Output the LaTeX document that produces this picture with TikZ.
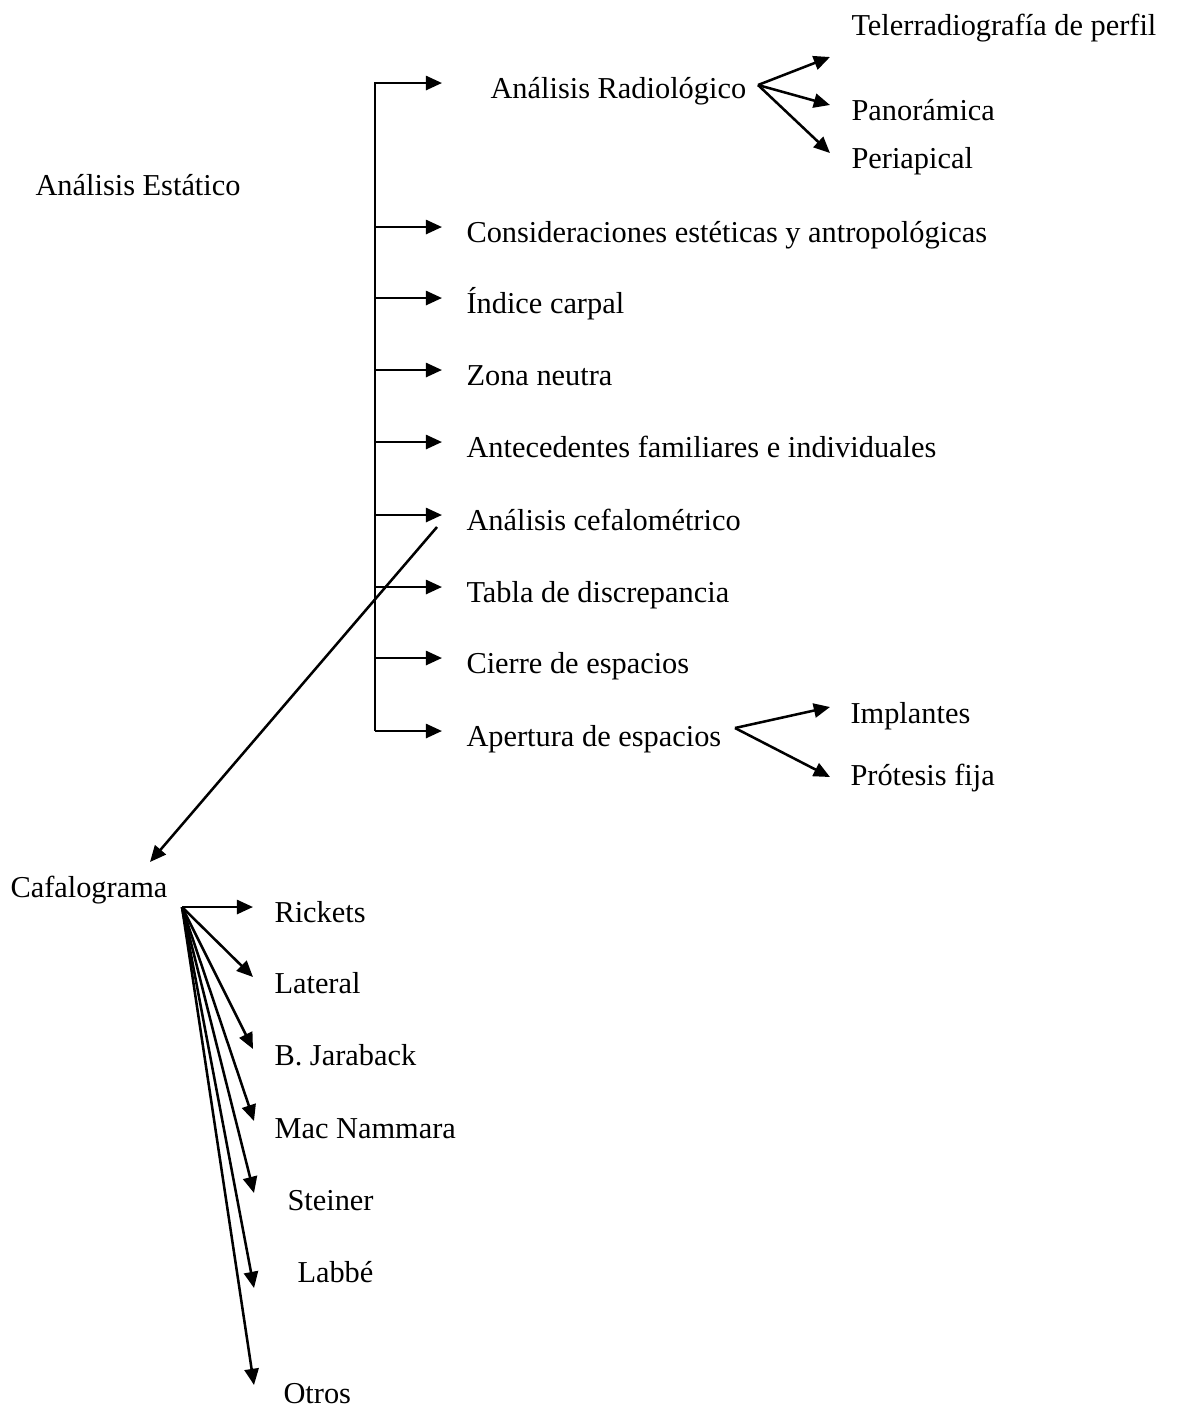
\documentclass[tikz,border=0pt]{standalone}
\usepackage{fontspec}
\setmainfont{Liberation Serif}
\usetikzlibrary{arrows.meta,calc}
\tikzset{
	item/.style={anchor=base west,inner sep=0pt,font=\fontsize{12}{14}\selectfont},
	line/.style={color=black,line width=1pt,line join=miter},
	arr/.style={line,-{Triangle[width=5.6pt,length=6.4pt]}}
}

\begin{document}
\begin{tikzpicture}[x=0.395pt,y=-0.395pt]
	\useasboundingbox (0,0) rectangle (1181,1410);
	%%%root
	\node[item] (estatico) at (35,195) {Análisis Estático};
	\coordinate (trunk) at (375,83);
	%%%items on the trunk
	\node[item] (radio) at (490,98) {Análisis Radiológico};
	\node[item] (cons) at (466,242) {Consideraciones estéticas y antropológicas};
	\node[item] (indice) at (466,313) {Índice carpal};
	\node[item] (zona) at (466,385) {Zona neutra};
	\node[item] (antec) at (466,457) {Antecedentes familiares e individuales};
	\node[item] (cefalo) at (466,530) {Análisis cefalométrico};
	\node[item] (tabla) at (466,602) {Tabla de discrepancia};
	\node[item] (cierre) at (466,673) {Cierre de espacios};
	\node[item] (apert) at (466,746) {Apertura de espacios};
	
	\coordinate (t-radio) at ([shift={(-48,-15)}]radio.base west);
	\foreach \n in {cons,indice,zona,antec,cefalo,tabla,cierre,apert}
		\coordinate (t-\n) at ([shift={(-24,-15)}]\n.base west);
	\draw[arr] (trunk |- t-apert) -- (trunk) -- (t-radio);
	\foreach \n in {cons,indice,zona,antec,cefalo,tabla,cierre,apert}
		\draw[arr] (trunk |- t-\n) -- (t-\n);
	
	%%%radiologico
	\node[item] (tele) at (851,35) {Telerradiografía de perfil};
	\node[item] (pano) at (851,120) {Panorámica};
	\node[item] (peri) at (851,168) {Periapical};
	\coordinate (o-radio) at (758,85);
	\draw[arr] (o-radio) -- ([shift={(-21,22)}]tele.base west);
	\draw[arr] (o-radio) -- ([shift={(-21,-15)}]pano.base west);
	\draw[arr] (o-radio) -- ([shift={(-21,-15)}]peri.base west);
	
	%%%apertura
	\node[item] (impl) at (850,723) {Implantes};
	\node[item] (prot) at (850,785) {Prótesis fija};
	\coordinate (o-apert) at (735,728);
	\draw[arr] (o-apert) -- ([shift={(-20,-16)}]impl.base west);
	\draw[arr] (o-apert) -- ([shift={(-20,-8)}]prot.base west);
	
	%%%cefalograma
	\node[item] (cafa) at (10,897) {Cafalograma};
	\draw[arr] ([shift={(-29,-3)}]cefalo.base west) -- ([shift={(140,-35)}]cafa.base west);
	
	\node[item] (rick) at (274,922) {Rickets};
	\node[item] (lat) at (274,993) {Lateral};
	\node[item] (jara) at (274,1065) {B. Jaraback};
	\node[item] (mac) at (274,1138) {Mac Nammara};
	\node[item] (stei) at (287,1210) {Steiner};
	\node[item] (labbe) at (297,1282) {Labbé};
	\node[item] (otros) at (283,1403) {Otros};
	\coordinate (o-cafa) at (182,907);
	\draw[arr] (o-cafa) -- ([shift={(-21,-15)}]rick.base west);
	\draw[arr] (o-cafa) -- ([shift={(-21,-16)}]lat.base west);
	\draw[arr] (o-cafa) -- ([shift={(-21,-16)}]jara.base west);
	\draw[arr] (o-cafa) -- ([shift={(-20,-17)}]mac.base west);
	\draw[arr] (o-cafa) -- ([shift={(-33,-17)}]stei.base west);
	\draw[arr] (o-cafa) -- ([shift={(-43,6)}]labbe.base west);
	\draw[arr] (o-cafa) -- ([shift={(-29,-18)}]otros.base west);
\end{tikzpicture}
\end{document}
